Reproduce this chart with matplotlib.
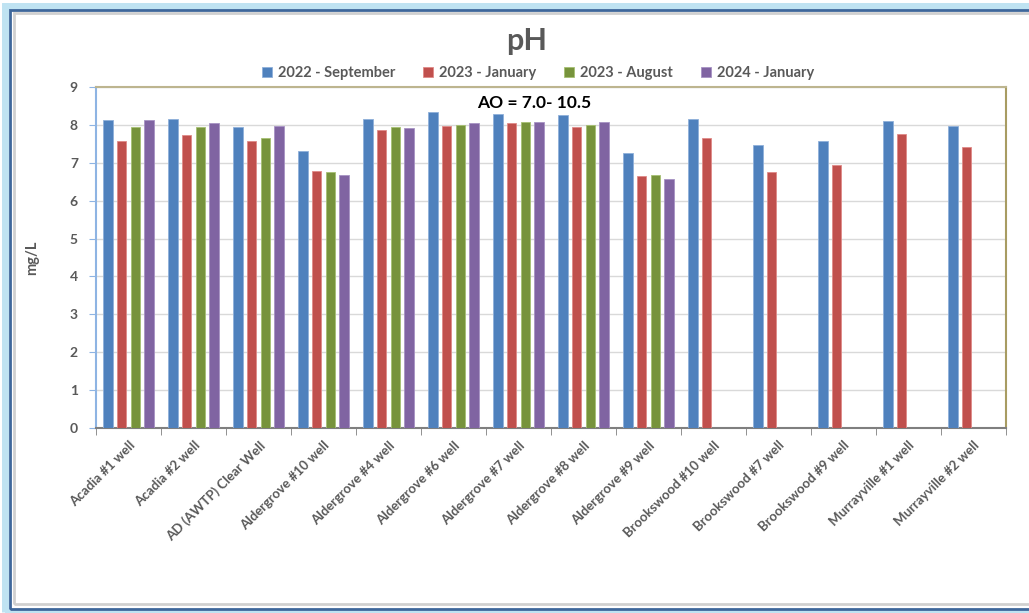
import numpy as np
import matplotlib
matplotlib.use('Agg')
import matplotlib.pyplot as plt
from matplotlib.patches import Rectangle

plt.rcParams['font.family'] = ['Lato', 'DejaVu Sans']

categories = ['Acadia #1 well', 'Acadia #2 well', 'AD (AWTP) Clear Well', 'Aldergrove #10 well',
              'Aldergrove #4 well', 'Aldergrove #6 well', 'Aldergrove #7 well', 'Aldergrove #8 well',
              'Aldergrove #9 well', 'Brookswood #10 well', 'Brookswood #7 well', 'Brookswood #9 well',
              'Murrayville #1 well', 'Murrayville #2 well']
series_names = ['2022 - September', '2023 - January', '2023 - August', '2024 - January']
sep_2022 = [8.13, 8.16, 7.95, 7.32, 8.16, 8.34, 8.28, 8.25, 7.26, 8.16, 7.46, 7.58, 8.10, 7.98]
jan_2023 = [7.58, 7.74, 7.58, 6.78, 7.86, 7.98, 8.04, 7.95, 6.65, 7.66, 6.75, 6.95, 7.77, 7.41]
aug_2023 = [7.95, 7.95, 7.66, 6.75, 7.95, 8.01, 8.07, 8.01, 6.68, None, None, None, None, None]
jan_2024 = [8.13, 8.04, 7.98, 6.68, 7.92, 8.04, 8.07, 8.07, 6.57, None, None, None, None, None]
colors = ['#4F81BD', '#C0504D', '#77933C', '#8064A2']
edges = ['#8FB0DA', '#E08A88', '#A6C072', '#A792C4']

fig = plt.figure(figsize=(10.29, 6.13), dpi=100)
W, H = 1029, 613

# chart frame (blue border with glow + inner gray shadow)
fig.patches.append(Rectangle((5 / W, 1 - 612 / H), 1.2, 606 / H, transform=fig.transFigure,
                             fill=False, edgecolor='#BFE3F2', linewidth=5, zorder=0))
fig.patches.append(Rectangle((10 / W, 1 - 609 / H), 1.2, 599 / H, transform=fig.transFigure,
                             fill=False, edgecolor='#3E679B', linewidth=2, zorder=1))
fig.patches.append(Rectangle((14 / W, 1 - 604 / H), 1.2, 591 / H, transform=fig.transFigure,
                             fill=False, edgecolor='#D0D0D0', linewidth=2, zorder=1))

ax = fig.add_axes([96 / W, 1 - 428 / H, 910 / W, 341 / H])
x = np.arange(len(categories))
width = 0.14
step = 0.21
all_series = [sep_2022, jan_2023, aug_2023, jan_2024]
for i, (vals, name) in enumerate(zip(all_series, series_names)):
    v = np.array([np.nan if a is None else a for a in vals])
    ax.bar(x + (i - 1.5) * step, v, width, color=colors[i], edgecolor=edges[i],
           linewidth=0.6, label=name, zorder=3)

ax.set_xlim(-0.5, len(categories) - 0.5)
ax.set_ylim(0, 9)
ax.set_yticks(range(0, 10))
ax.yaxis.grid(True, color='#D9D9D9', linewidth=1, zorder=0)
ax.set_axisbelow(True)

ax.set_xticks(x)
ax.set_xticklabels(categories, rotation=45, ha='right', rotation_mode='anchor',
                   fontsize=9.5, fontweight='bold', color='#595959')
ax.tick_params(axis='x', length=0, pad=8)
ax.set_xticks(np.arange(-0.5, len(categories)), minor=True)
ax.tick_params(axis='x', which='minor', length=5, color='#7F7F7F', direction='out')
ax.tick_params(axis='y', length=5, color='#8EB4E3', direction='out', labelsize=10,
               labelcolor='#595959', pad=8)
for lab in ax.get_yticklabels():
    lab.set_fontweight('bold')

ax.spines['left'].set_color('#8EB4E3')
ax.spines['bottom'].set_color('#7F7F7F')
ax.spines['top'].set_color('#BDB58F')
ax.spines['right'].set_color('#A89C62')
for s in ax.spines.values():
    s.set_linewidth(1.5)

ax.set_ylabel('mg/L', fontsize=10.5, fontweight='bold', color='#595959', labelpad=22)
ax.text(0.482, 0.953, 'AO = 7.0- 10.5', transform=ax.transAxes, ha='center', va='center',
        fontsize=12.5, fontweight='bold', color='black')

fig.text(527 / W, 1 - 41 / H, 'pH', ha='center', va='center', fontsize=22,
         fontweight='bold', color='#595959')
fig.legend(loc='center', bbox_to_anchor=(538 / W, 1 - 73 / H), ncol=4, frameon=False,
           handlelength=0.7, handleheight=0.7, handletextpad=0.4, columnspacing=1.9,
           prop={'size': 10.5, 'weight': 'bold'}, labelcolor='#595959')

fig.savefig('out.png', dpi=100)
